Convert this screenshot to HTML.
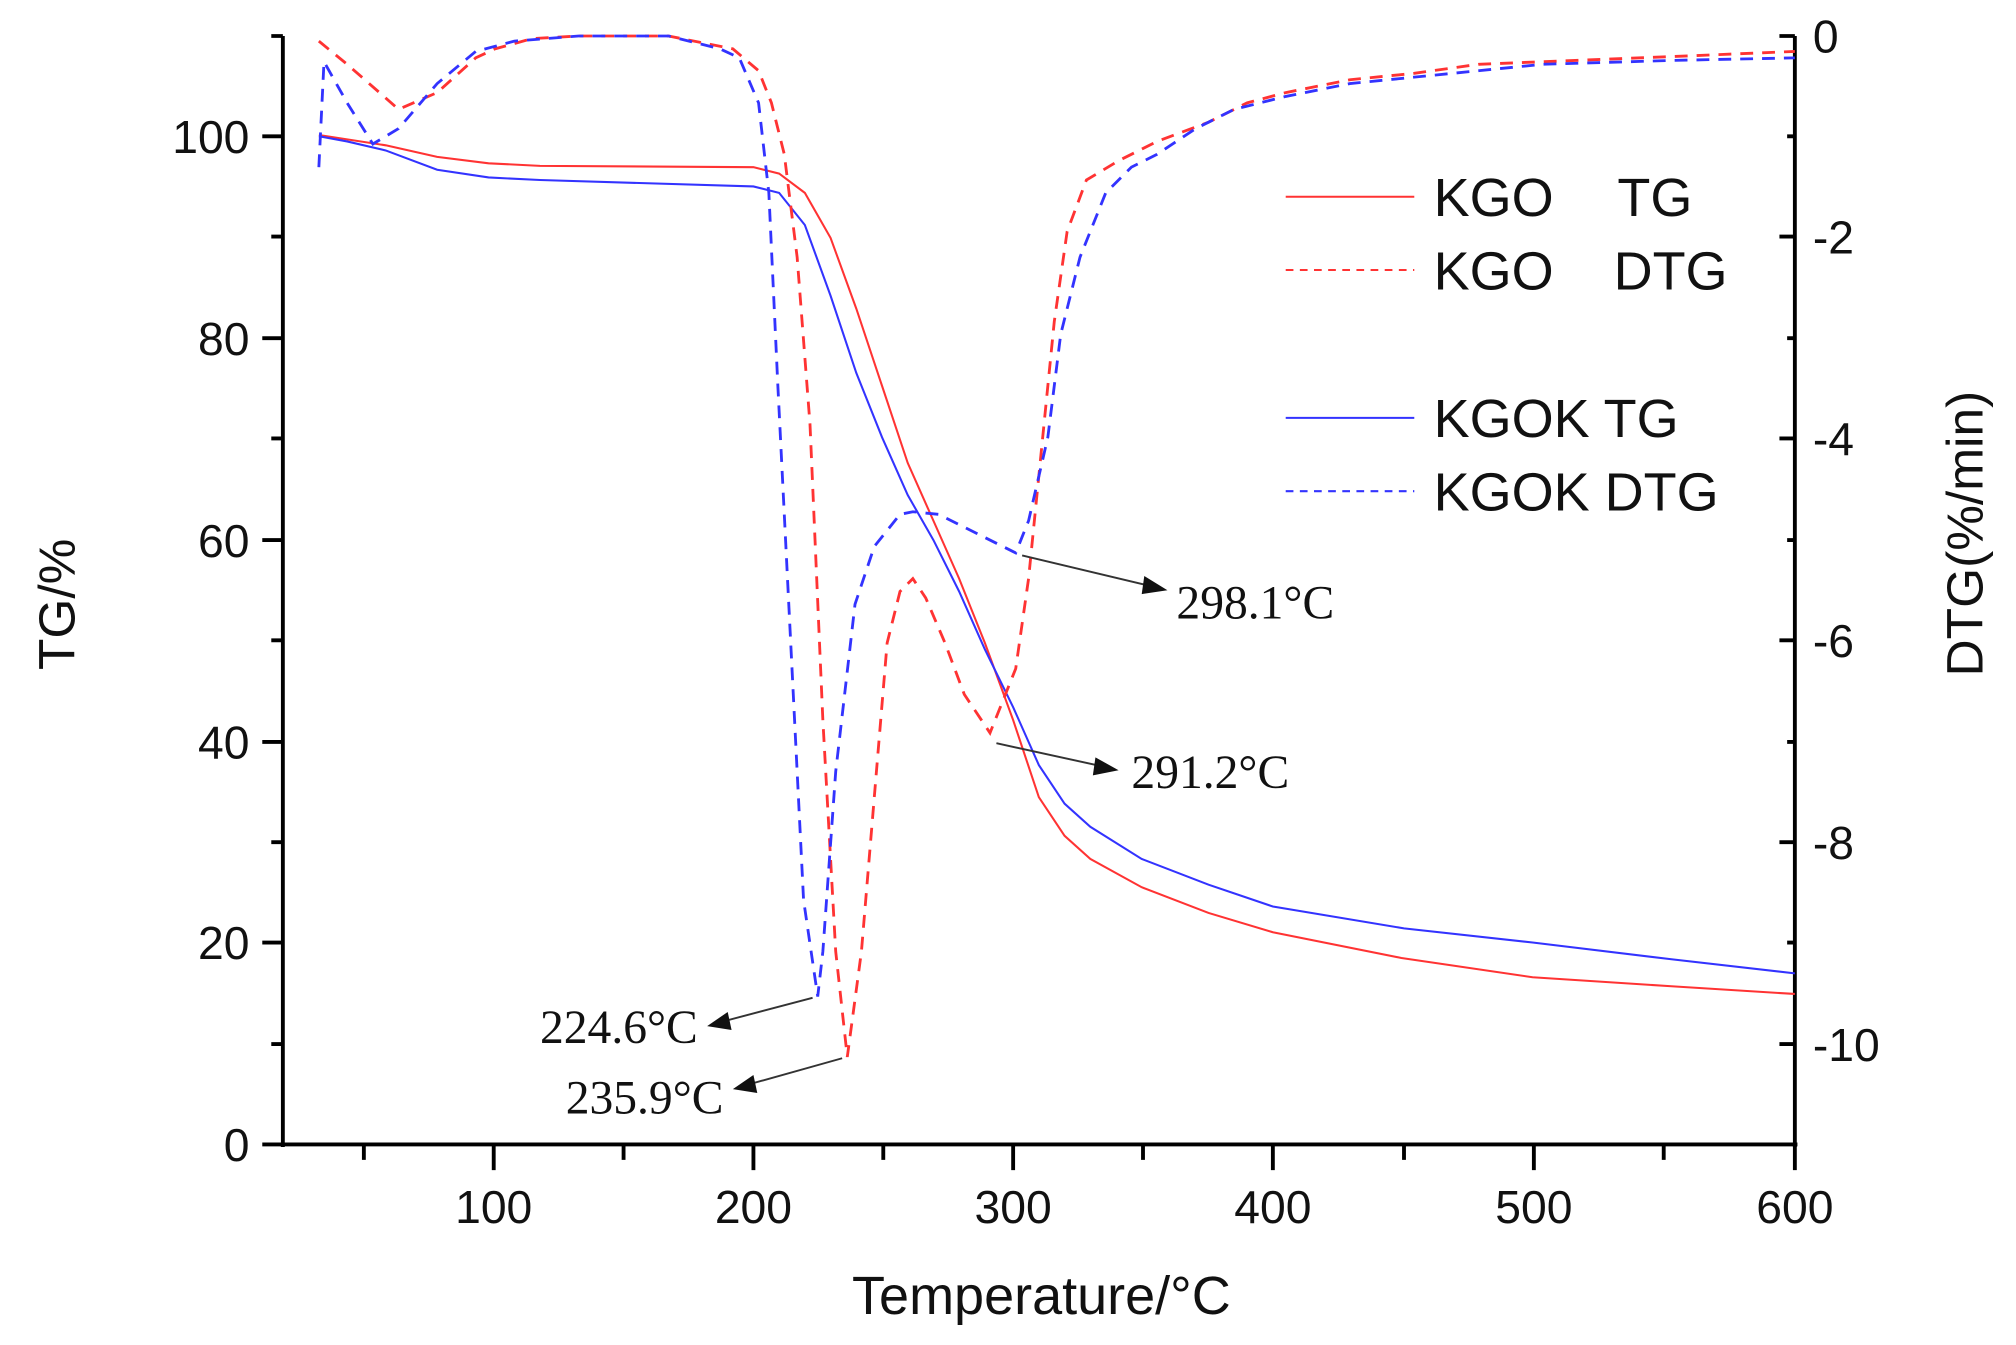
<!DOCTYPE html>
<html><head><meta charset="utf-8"><style>html,body{margin:0;padding:0;background:#fff;}svg{display:block;}</style></head>
<body>
<svg width="2016" height="1345" viewBox="0 0 1568 1046" preserveAspectRatio="none" xmlns="http://www.w3.org/2000/svg">
<rect width="1568" height="1046" fill="#fff"/>
<g stroke="#000" stroke-width="3" fill="none">
<line x1="220" y1="28" x2="220" y2="892"/>
<line x1="1396" y1="28" x2="1396" y2="892"/>
<line x1="218" y1="890" x2="1398" y2="890"/>
<path d="M204 890H220M204 733H220M204 577H220M204 420H220M204 263H220M204 106H220M211 812H220M211 655H220M211 498H220M211 341H220M211 184H220M211 28H220"/>
<path d="M384 890V910M586 890V910M788 890V910M990 890V910M1193 890V910M1396 890V910M283 890V902M485 890V902M687 890V902M889 890V902M1092 890V902M1294 890V902"/>
<path d="M1384 28H1396M1384 184H1396M1384 341H1396M1384 498H1396M1384 655H1396M1384 812H1396M1390 106H1396M1390 263H1396M1390 420H1396M1390 577H1396M1390 733H1396"/>
</g>
<g font-family="Liberation Sans, sans-serif" font-size="36" fill="#111">
<g text-anchor="end"><text x="194" y="903">0</text><text x="194" y="746">20</text><text x="194" y="590">40</text><text x="194" y="433">60</text><text x="194" y="276">80</text><text x="194" y="119">100</text></g>
<g text-anchor="middle"><text x="384" y="951">100</text><text x="586" y="951">200</text><text x="788" y="951">300</text><text x="990" y="951">400</text><text x="1193" y="951">500</text><text x="1396" y="951">600</text></g>
<g text-anchor="start"><text x="1410" y="41">0</text><text x="1410" y="197">-2</text><text x="1410" y="354">-4</text><text x="1410" y="511">-6</text><text x="1410" y="668">-8</text><text x="1410" y="825">-10</text></g>
<text x="810" y="1022" text-anchor="middle" font-size="42">Temperature/°C</text>
<text transform="translate(58,470) rotate(-90)" text-anchor="middle" font-size="40">TG/%</text>
<text transform="translate(1542,415) rotate(-90)" text-anchor="middle" font-size="40">DTG(%/min)</text>
<g font-size="42"><text x="1115" y="168">KGO</text><text x="1258" y="168">TG</text><text x="1115" y="225">KGO</text><text x="1255" y="225">DTG</text><text x="1115" y="340">KGOK TG</text><text x="1115" y="397">KGOK DTG</text></g>
</g>
<g stroke-width="1.6" fill="none">
<line x1="1000" y1="153" x2="1100" y2="153" stroke="#f33"/>
<line x1="1000" y1="210" x2="1100" y2="210" stroke="#f33" stroke-dasharray="6,5"/>
<line x1="1000" y1="325" x2="1100" y2="325" stroke="#33f"/>
<line x1="1000" y1="382" x2="1100" y2="382" stroke="#33f" stroke-dasharray="6,5"/>
<path stroke="#f33" d="M248 105L300 113L340 122L380 127L420 129L586 130L606 135L626 150L646 185L666 240L686 300L706 360L726 405L746 450L766 500L788 560L808 620L828 650L848 668L888 690L940 710L990 725L1090 745L1192 760L1300 767L1396 773"/>
<path stroke="#33f" d="M248 106L270 110L300 117L340 132L380 138L420 140L586 145L606 150L626 175L646 230L666 290L686 340L706 385L726 420L746 460L766 505L788 550L808 595L828 625L848 643L888 668L940 688L990 705L1092 722L1192 733L1300 746L1396 757"/>
<path stroke="#f33" stroke-width="2.2" stroke-dasharray="10,7" d="M248 32L270 50L310 85L340 72L370 45L385 38L414 30L450 28L520 28L570 38L590 55L600 80L610 120L620 200L630 330L640 560L650 740L659 822L670 740L680 620L690 500L700 460L710 450L720 465L735 500L750 540L770 570L790 520L800 450L810 350L820 250L830 180L845 140L870 125L900 110L940 95L970 80L1000 72L1050 62L1100 57L1150 50L1200 48L1300 44L1396 40"/>
<path stroke="#33f" stroke-width="2.2" stroke-dasharray="10,7" d="M248 130L252 48L270 80L290 112L310 100L340 65L370 40L400 32L450 28L520 28L560 38L575 45L590 80L598 150L605 300L615 500L625 700L636 775L640 740L650 600L665 470L680 425L700 400L710 398L730 400L760 415L790 430L800 405L815 340L825 260L840 200L860 150L880 130L900 120L930 100L960 85L1000 75L1050 65L1100 60L1200 50L1300 47L1396 45"/>
</g>
<g stroke="#333" stroke-width="1.5" fill="#111">
<line x1="795" y1="432" x2="900" y2="457"/><polygon points="908,459 890,448 888,462" stroke="none"/>
<line x1="775" y1="578" x2="862" y2="597"/><polygon points="870,599 852,589 850,603" stroke="none"/>
<line x1="632" y1="776" x2="560" y2="795"/><polygon points="550,798 566,787 569,801" stroke="none"/>
<line x1="655" y1="823" x2="580" y2="844"/><polygon points="570,847 586,836 589,850" stroke="none"/>
</g>
<g font-family="Liberation Serif, serif" font-size="37" fill="#111">
<text x="915" y="481">298.1°C</text><text x="880" y="613">291.2°C</text><text x="420" y="811">224.6°C</text><text x="440" y="866">235.9°C</text>
</g>
</svg>
</body></html>
